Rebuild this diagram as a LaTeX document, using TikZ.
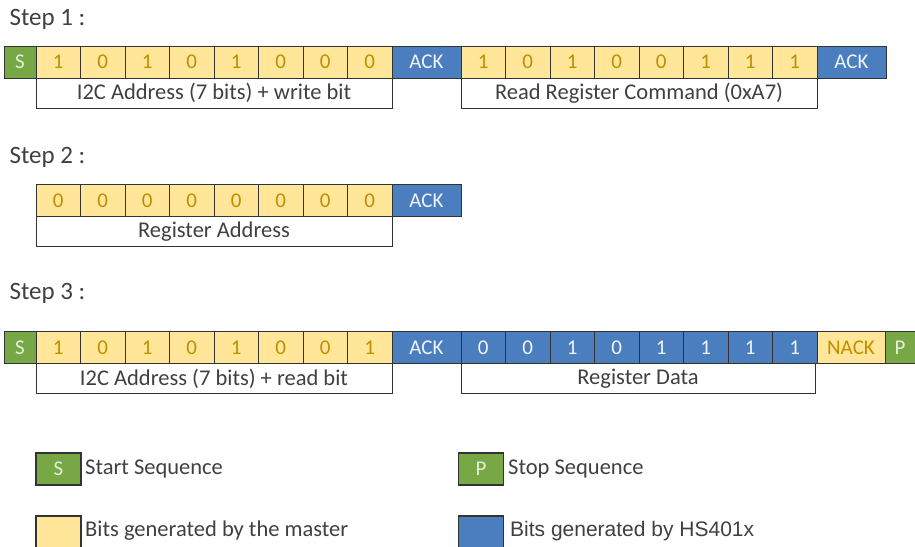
\documentclass[tikz,border=0pt]{standalone}
\usepackage{fontspec}
\setmainfont{Carlito}
\newfontfamily\arialfont{Liberation Sans}
\definecolor{startgreen}{HTML}{77A845}
\definecolor{masteryellow}{HTML}{FFE699}
\definecolor{slaveblue}{HTML}{4A7EBE}
\definecolor{bittext}{HTML}{BF8F00}
\definecolor{labeltext}{HTML}{404040}
\tikzset{
  cell/.style={draw=black!80, line width=0.8pt, inner sep=0pt, minimum height=32pt, font=\fontsize{21}{24}\selectfont},
  mbit/.style={cell, fill=masteryellow, text=bittext, minimum width=44.5pt},
  sbit/.style={cell, fill=slaveblue, text=white!92!slaveblue, minimum width=44.5pt},
  sack/.style={cell, fill=slaveblue, text=white!92!slaveblue, minimum width=69pt},
  mack/.style={cell, fill=masteryellow, text=bittext, minimum width=68pt},
  seq/.style={cell, fill=startgreen, text=white!80!startgreen, minimum width=32pt},
  fieldbox/.style={draw=black!80, line width=0.8pt, inner sep=0pt, minimum height=30pt, text=labeltext, font=\fontsize{22.5}{26}\selectfont},
  steplabel/.style={anchor=west, text=labeltext, font=\fontsize{25}{29}\selectfont},
  keybox/.style={draw=black!80, line width=1.2pt, inner sep=0pt, minimum width=45pt, minimum height=32pt, font=\fontsize{21}{24}\selectfont},
  keytext/.style={anchor=west, inner sep=0pt, text=labeltext, font=\fontsize{22.5}{26}\selectfont}
}
\begin{document}
\begin{tikzpicture}[x=1pt,y=-1pt]
\useasboundingbox (0,0) rectangle (915,546);
\node[steplabel] (step1) at (6,19) {Step 1 :};
\node[seq] (as) at (20,62) {S};
\node[mbit] (ab1) at (58.25,62) {1};
\node[mbit] (ab2) at (102.75,62) {0};
\node[mbit] (ab3) at (147.25,62) {1};
\node[mbit] (ab4) at (191.75,62) {0};
\node[mbit] (ab5) at (236.25,62) {1};
\node[mbit] (ab6) at (280.75,62) {0};
\node[mbit] (ab7) at (325.25,62) {0};
\node[mbit] (ab8) at (369.75,62) {0};
\node[sack] (aack) at (426.5,62) {ACK};
\node[mbit] (cb1) at (483.25,62) {1};
\node[mbit] (cb2) at (527.75,62) {0};
\node[mbit] (cb3) at (572.25,62) {1};
\node[mbit] (cb4) at (616.75,62) {0};
\node[mbit] (cb5) at (661.25,62) {0};
\node[mbit] (cb6) at (705.75,62) {1};
\node[mbit] (cb7) at (750.25,62) {1};
\node[mbit] (cb8) at (794.75,62) {1};
\node[sack] (cack) at (851.5,62) {ACK};
\node[fieldbox, minimum width=356pt] (aaddr) at (214,93) {I2C Address (7 bits) + write bit};
\node[fieldbox, minimum width=356pt] (acmd) at (639,93) {Read Register Command (0xA7)};
\node[steplabel] (step2) at (6,157) {Step 2 :};
\node[mbit] (rb1) at (58.25,200.5) {0};
\node[mbit] (rb2) at (102.75,200.5) {0};
\node[mbit] (rb3) at (147.25,200.5) {0};
\node[mbit] (rb4) at (191.75,200.5) {0};
\node[mbit] (rb5) at (236.25,200.5) {0};
\node[mbit] (rb6) at (280.75,200.5) {0};
\node[mbit] (rb7) at (325.25,200.5) {0};
\node[mbit] (rb8) at (369.75,200.5) {0};
\node[sack] (rack) at (426.5,200.5) {ACK};
\node[fieldbox, minimum width=356pt] (raddr) at (214,231.5) {Register Address};
\node[steplabel] (step3) at (6,293) {Step 3 :};
\node[seq] (bs) at (20,347.5) {S};
\node[mbit] (bb1) at (58.25,347.5) {1};
\node[mbit] (bb2) at (102.75,347.5) {0};
\node[mbit] (bb3) at (147.25,347.5) {1};
\node[mbit] (bb4) at (191.75,347.5) {0};
\node[mbit] (bb5) at (236.25,347.5) {1};
\node[mbit] (bb6) at (280.75,347.5) {0};
\node[mbit] (bb7) at (325.25,347.5) {0};
\node[mbit] (bb8) at (369.75,347.5) {1};
\node[sack] (back) at (426.5,347.5) {ACK};
\node[sbit] (db1) at (483.25,347.5) {0};
\node[sbit] (db2) at (527.75,347.5) {0};
\node[sbit] (db3) at (572.25,347.5) {1};
\node[sbit] (db4) at (616.75,347.5) {0};
\node[sbit] (db5) at (661.25,347.5) {1};
\node[sbit] (db6) at (705.75,347.5) {1};
\node[sbit] (db7) at (750.25,347.5) {1};
\node[sbit] (db8) at (794.75,347.5) {1};
\node[mack] (dnack) at (851,347.5) {NACK};
\node[seq, minimum width=30pt] (dp) at (900,347.5) {P};
\node[fieldbox, minimum width=356pt] (baddr) at (214,378.5) {I2C Address (7 bits) + read bit};
\node[fieldbox, minimum width=354pt] (ddata) at (638,378.5) {Register Data};
\node[keybox, fill=startgreen, text=white!80!startgreen] (kstart) at (58.5,469) {S};
\node[keytext] (tstart) at (85,469) {Start Sequence};
\node[keybox, fill=startgreen, text=white!80!startgreen] (kstop) at (481,469) {P};
\node[keytext] (tstop) at (508,469) {Stop Sequence};
\node[keybox, fill=masteryellow] (kmaster) at (58.5,532) {};
\node[keytext] (tmaster) at (85,531) {Bits generated by the master};
\node[keybox, fill=slaveblue] (kslave) at (481,532) {};
\node[keytext, font=\arialfont\fontsize{21}{24}\selectfont] (tslave) at (510,531) {Bits generated by HS401x};
\end{tikzpicture}
\end{document}
